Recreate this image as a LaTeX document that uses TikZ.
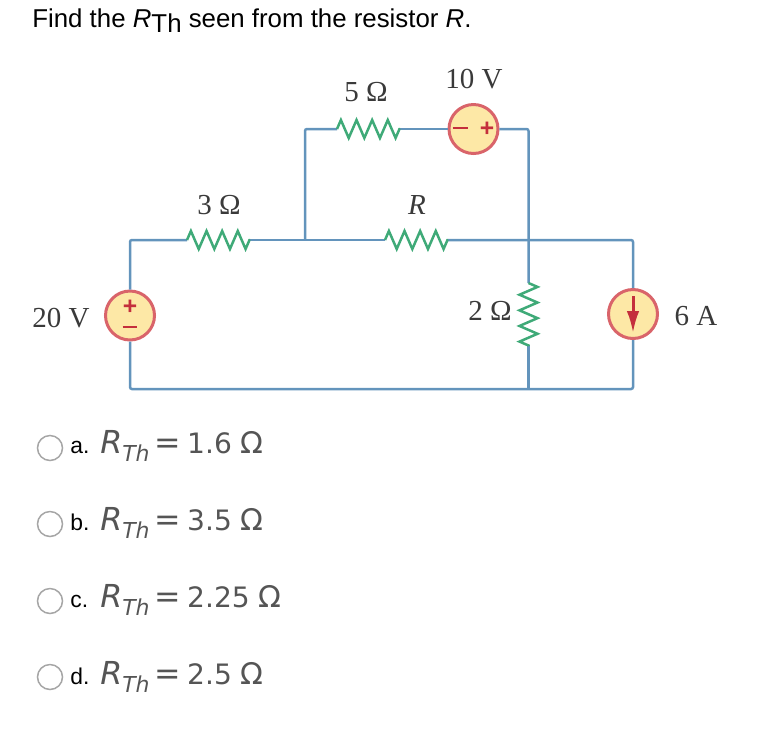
\documentclass[tikz,border=0pt]{standalone}
\usepackage{fontspec}
\setmainfont{Liberation Sans}
\newfontfamily\circuitfont{Liberation Serif}
\newfontfamily\answerfont{DejaVu Sans}
\usetikzlibrary{arrows.meta}
\usetikzlibrary{decorations.pathmorphing}
\definecolor{wireblue}{HTML}{6394BC}
\definecolor{sourcefill}{HTML}{FDE8A6}
\definecolor{sourcering}{HTML}{D9646A}
\definecolor{sourcemark}{HTML}{C42F3C}
\definecolor{resgreen}{HTML}{3FAA78}
\definecolor{labelgray}{HTML}{3A3A3A}
\definecolor{answergray}{HTML}{555555}
\tikzstyle{wire}=[draw=wireblue, line width=0.05cm, rounded corners=0.04cm]
\tikzstyle{resistor}=[draw=resgreen, line width=0.05cm, decorate, decoration={zigzag, segment length=0.3125cm, amplitude=0.18cm}]
\tikzstyle{source}=[circle, draw=sourcering, fill=sourcefill, line width=0.06cm, minimum size=0.98cm, inner sep=0pt]
\tikzstyle{polarity}=[text=sourcemark, font=\fontsize{14}{14}\selectfont\bfseries, inner sep=0pt]
\tikzstyle{valuetext}=[text=labelgray, font=\fontsize{16.5}{17}\selectfont\circuitfont, inner sep=0pt]
\tikzstyle{radio}=[circle, draw=black!35, fill=white, line width=0.03cm, minimum size=0.5cm, inner sep=0pt]
\tikzstyle{answer}=[anchor=base west, inner sep=0pt, font=\fontsize{13}{14}\selectfont]
\tikzstyle{formula}=[anchor=base west, inner sep=0pt, text=answergray, font=\answerfont]
\newcommand{\rthvalue}[1]{{\fontsize{18}{18}\selectfont\itshape R}\raisebox{-0.16cm}{\fontsize{12.5}{13}\selectfont\itshape Th}\hspace{2.8pt}{\fontsize{18}{18}\selectfont =}\hspace{3.5pt}{\fontsize{16}{16}\selectfont #1}\hspace{5pt}{\fontsize{17}{17}\selectfont Ω}}

\begin{document}
\begin{tikzpicture}[x=0.02cm, y=-0.02cm]
  \useasboundingbox (0,0) rectangle (758,752);

  % Question
  \node (question) at (32,27) [anchor=base west, inner sep=0pt, font=\fontsize{14.7}{15}\selectfont] {Find the \textit{R}\raisebox{-0.22em}{Th} seen from the resistor \textit{R}.};

  % Sources
  \node (vten) at (473.5,129) [source] {};
  \node (vtwenty) at (130,315.5) [source] {};
  \node (isix) at (633,314) [source] {};
  \node (vtenminus) at (460,128) [polarity] {\rule{0.3cm}{0.05cm}};
  \node (vtenplus) at (487,129) [polarity] {+};
  \node (vtwentyplus) at (130,307) [polarity] {+};
  \node (vtwentyminus) at (130,327) [polarity] {\rule{0.3cm}{0.05cm}};
  \coordinate (arrowtop) at (633,296);
  \coordinate (arrowtip) at (633,333);

  % Corners and junctions
  \coordinate (topleft) at (305,129);
  \coordinate (topright) at (528.5,129);
  \coordinate (midleft) at (305,240);
  \coordinate (midright) at (528.5,240);
  \coordinate (cornerne) at (633,240);
  \coordinate (cornerse) at (633,389);
  \coordinate (cornersw) at (130,389);
  \coordinate (botmid) at (528.5,389);

  % Resistor ends
  \coordinate (rthreea) at (187,240);
  \coordinate (rthreeb) at (250,240);
  \coordinate (rfivea) at (337,129);
  \coordinate (rfiveb) at (400,129);
  \coordinate (rra) at (385,240);
  \coordinate (rrb) at (448,240);
  \coordinate (rtwoa) at (528.5,283);
  \coordinate (rtwob) at (528.5,346);

  % Wires
  \draw[wire] (vtwenty.north) |- (rthreea);
  \draw[wire] (rthreeb) -- (midleft) -- (rra);
  \draw[wire] (rrb) -- (midright) -- (cornerne) -- (isix.north);
  \draw[wire] (midleft) -- (topleft) -- (rfivea);
  \draw[wire] (rfiveb) -- (vten.west);
  \draw[wire] (vten.east) -- (topright) -- (rtwoa);
  \draw[wire] (rtwob) -- (botmid);
  \draw[wire] (isix.south) -- (cornerse) -- (cornersw) -- (vtwenty.south);

  % Resistors
  \draw[resistor] (rthreea) -- (rthreeb);
  \draw[resistor] (rfivea) -- (rfiveb);
  \draw[resistor] (rra) -- (rrb);
  \draw[resistor] (rtwoa) -- (rtwob);

  % Current arrow
  \draw[sourcemark, line width=0.06cm, -{Latex[length=0.44cm,width=0.25cm]}] (arrowtop) -- (arrowtip);

  % Values
  \node (lfive) at (366,92) [valuetext] {5 Ω};
  \node (lten) at (474,79) [valuetext] {10 V};
  \node (lthree) at (219,205) [valuetext] {3 Ω};
  \node (lr) at (417,205) [valuetext] {\textit{R}};
  \node (ltwenty) at (61,318) [valuetext] {20 V};
  \node (ltwo) at (490,311) [valuetext] {2 Ω};
  \node (lsix) at (696,316) [valuetext] {6 A};

  % Answers
  \node (radioa) at (50,448) [radio] {};
  \node (radiob) at (50,524) [radio] {};
  \node (radioc) at (50,601) [radio] {};
  \node (radiod) at (50,677) [radio] {};
  \node (answera) at (70,453) [answer] {a.};
  \node (answerb) at (70,530) [answer] {b.};
  \node (answerc) at (70,607) [answer] {c.};
  \node (answerd) at (70,684) [answer] {d.};
  \node (formulaa) at (100,453) [formula] {\rthvalue{1.6}};
  \node (formulab) at (100,530) [formula] {\rthvalue{3.5}};
  \node (formulac) at (100,607) [formula] {\rthvalue{2.25}};
  \node (formulad) at (100,684) [formula] {\rthvalue{2.5}};
\end{tikzpicture}
\end{document}
